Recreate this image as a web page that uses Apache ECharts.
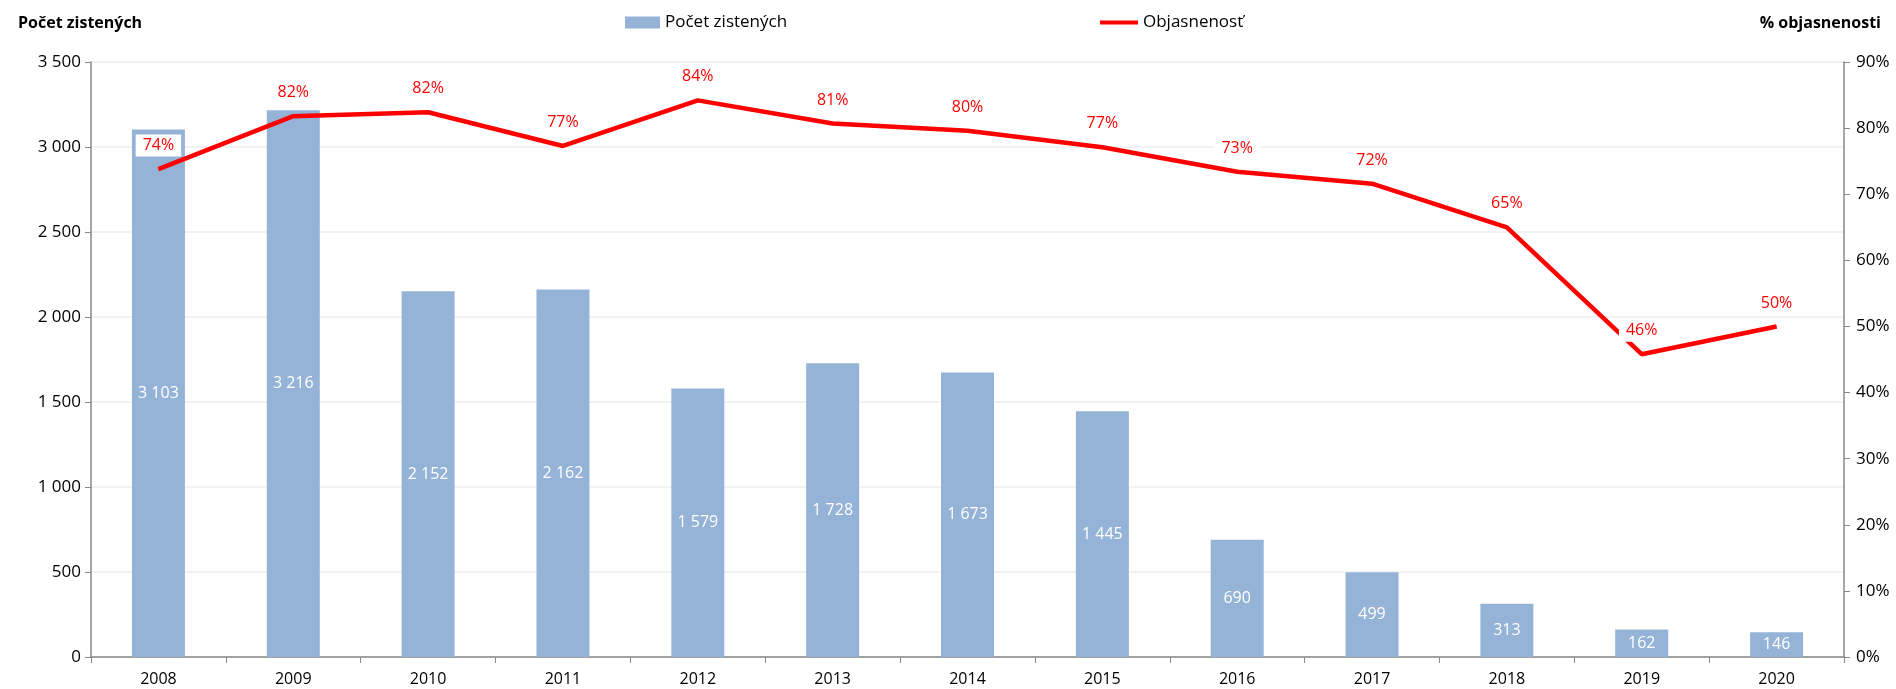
<!DOCTYPE html>
<html>
<head>
<meta charset="utf-8">
<script src="https://cdn.jsdelivr.net/npm/echarts@6/dist/echarts.min.js"></script>
<style>
  html, body { margin: 0; padding: 0; background: #fff; }
  #chartBox { width: 1896px; height: 689px; }
</style>
</head>
<body>
<div id="chartBox"></div>
<script>
// roky
const years = ['2008', '2009', '2010', '2011', '2012', '2013', '2014', '2015', '2016', '2017', '2018', '2019', '2020']
// počet zistených
const counts = [3103, 3216, 2152, 2162, 1579, 1728, 1673, 1445, 690, 499, 313, 162, 146]
// objasnenosť v %
const clearance = [73.8, 81.8, 82.4, 77.3, 84.2, 80.7, 79.6, 77.1, 73.4, 71.6, 65.0, 45.8, 50.0]

const font = 'Open Sans'
const fmtNum = v => String(v).replace(/\B(?=(\d{3})+(?!\d))/g, ' ')

const chart = echarts.init(document.getElementById('chartBox'))
chart.setOption({
  animation: false,
  textStyle: { fontFamily: font },
  title: [
    { text: 'Počet zistených', left: 13, top: 10, textStyle: { fontSize: 16, fontWeight: 'bold', color: '#000', fontFamily: font } },
    { text: '% objasnenosti', right: 10, top: 10, textStyle: { fontSize: 16, fontWeight: 'bold', color: '#000', fontFamily: font } }
  ],
  legend: [
    {
      top: 9,
      left: 620,
      itemWidth: 35,
      itemHeight: 12,
      itemGap: 4,
      textStyle: { fontSize: 17, color: '#000', fontFamily: font },
      data: [{ name: 'Počet zistených', icon: 'rect' }]
    },
    {
      top: 9,
      left: 1095,
      itemWidth: 38,
      itemHeight: 12,
      textStyle: { fontSize: 17, color: '#000', fontFamily: font },
      data: [{ name: 'Objasnenosť', icon: 'path://M0,4.5 L30,4.5 L30,7.5 L0,7.5 Z' }]
    }
  ],
  grid: { left: 91, right: 52, top: 62, bottom: 32 },
  xAxis: {
    type: 'category',
    data: years,
    axisLine: { lineStyle: { color: '#888', width: 1.5 } },
    axisTick: { show: true, alignWithLabel: false, length: 6, lineStyle: { color: '#888' } },
    axisLabel: { color: '#000', fontSize: 16, margin: 14 }
  },
  yAxis: [
    {
      type: 'value',
      min: 0,
      max: 3500,
      interval: 500,
      axisLine: { show: true, lineStyle: { color: '#888', width: 1.5 } },
      axisTick: { show: true, length: 6, lineStyle: { color: '#888' } },
      axisLabel: { color: '#000', fontSize: 17, margin: 10, formatter: v => fmtNum(v) },
      splitLine: { show: true, lineStyle: { color: '#eeeeee', width: 1.5 } }
    },
    {
      type: 'value',
      min: 0,
      max: 90,
      interval: 10,
      position: 'right',
      axisLine: { show: true, lineStyle: { color: '#888', width: 1.5 } },
      axisTick: { show: true, length: 6, lineStyle: { color: '#888' } },
      axisLabel: { color: '#000', fontSize: 17, margin: 12, formatter: '{value}%' },
      splitLine: { show: false }
    }
  ],
  series: [
    {
      name: 'Počet zistených',
      type: 'bar',
      barWidth: 53,
      data: counts,
      itemStyle: { color: '#95b3d7' },
      label: {
        show: true,
        position: 'inside',
        color: '#fff',
        fontSize: 16,
        formatter: p => fmtNum(p.value)
      },
      z: 1
    },
    {
      name: 'Objasnenosť',
      type: 'line',
      yAxisIndex: 1,
      data: clearance,
      symbol: 'circle',
      symbolSize: 1,
      showSymbol: true,
      itemStyle: { color: '#ff0000' },
      lineStyle: { color: '#ff0000', width: 4.5 },
      label: {
        show: true,
        position: 'top',
        distance: 12,
        color: '#ff0000',
        fontSize: 16,
        backgroundColor: '#fff',
        padding: [3, 7],
        formatter: p => Math.round(p.value) + '%'
      },
      z: 3
    }
  ]
})
window.addEventListener('resize', () => {
  chart.resize()
})
</script>
</body>
</html>
